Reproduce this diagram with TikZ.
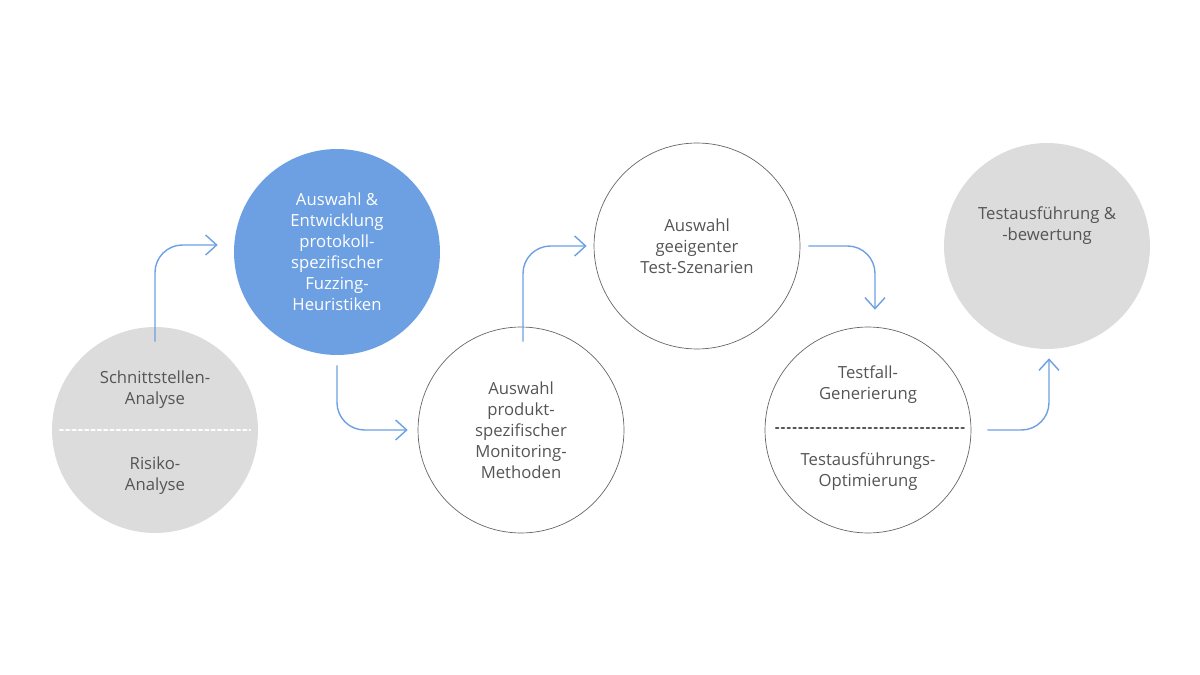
\documentclass[tikz,border=0pt]{standalone}
\usepackage{fontspec}
\setmainfont{Open Sans}
\usetikzlibrary{calc,arrows.meta}
\definecolor{txtgray}{HTML}{555555}
\definecolor{fillgray}{HTML}{DCDCDC}
\definecolor{stepblue}{HTML}{6CA0E2}
\tikzset{
  phase/.style={circle, minimum size=4.12cm, inner sep=0pt, align=center,
    text=txtgray, font=\fontsize{9.5}{12}\selectfont},
  grayphase/.style={phase, fill=fillgray},
  bluephase/.style={phase, fill=stepblue, text=white},
  openphase/.style={phase, draw=gray!80!black, thin},
  flow/.style={draw=stepblue, thick, rounded corners=0.55cm, -{Straight Barb[length=2.2mm,width=4mm]}},
  sep/.style={draw=white, line width=1.6pt, dotted, line cap=round},
  sepdark/.style={draw=txtgray, line width=1.3pt, dotted, line cap=round}
}
\begin{document}
\begin{tikzpicture}[x=0.02cm,y=-0.02cm]
	\useasboundingbox (0,0) rectangle (1200,675);
	\node[grayphase] (analyse) at (155,430) {};
	\node[txtgray, align=center, font=\fontsize{9.5}{12}\selectfont] at (155,390) {Schnittstellen-\\Analyse};
	\node[txtgray, align=center, font=\fontsize{9.5}{12}\selectfont] at (155,476) {Risiko-\\Analyse};
	\draw[sep] (60,430) -- (250,430);

	\node[bluephase] (heuristik) at (337,252) {Auswahl \&\\Entwicklung\\protokoll-\\spezifischer\\Fuzzing-\\Heuristiken};
	\node[openphase] (monitor) at (521,430) {Auswahl\\produkt-\\spezifischer\\Monitoring-\\Methoden};
	\node[openphase] (szenario) at (697,246) {Auswahl\\geeigenter\\Test-Szenarien};
	\node[openphase] (testfall) at (868,430) {};
	\node[txtgray, align=center, font=\fontsize{9.5}{12}\selectfont] at (868,385) {Testfall-\\Generierung};
	\node[txtgray, align=center, font=\fontsize{9.5}{12}\selectfont] at (868,472) {Testausführungs-\\Optimierung};
	\draw[sepdark] (776,428) -- (966,428);
	\node[grayphase] (bewertung) at (1047,246) {Testausführung \&\\-bewertung\\[14pt]};

	\draw[flow] ($(analyse.north)+(0,15)$) |- ($(heuristik.west)+(-16,-7)$);
	\draw[flow] ($(heuristik.south)+(0,10)$) |- ($(monitor.west)+(-10,0)$);
	\draw[flow] ($(monitor.north)+(2,15)$) |- ($(szenario.west)+(-7,0)$);
	\draw[flow] ($(szenario.east)+(8,0)$) -| ($(testfall.north)+(7,-17)$);
	\draw[flow] ($(testfall.east)+(16,0)$) -| ($(bewertung.south)+(2,9)$);
\end{tikzpicture}
\end{document}
